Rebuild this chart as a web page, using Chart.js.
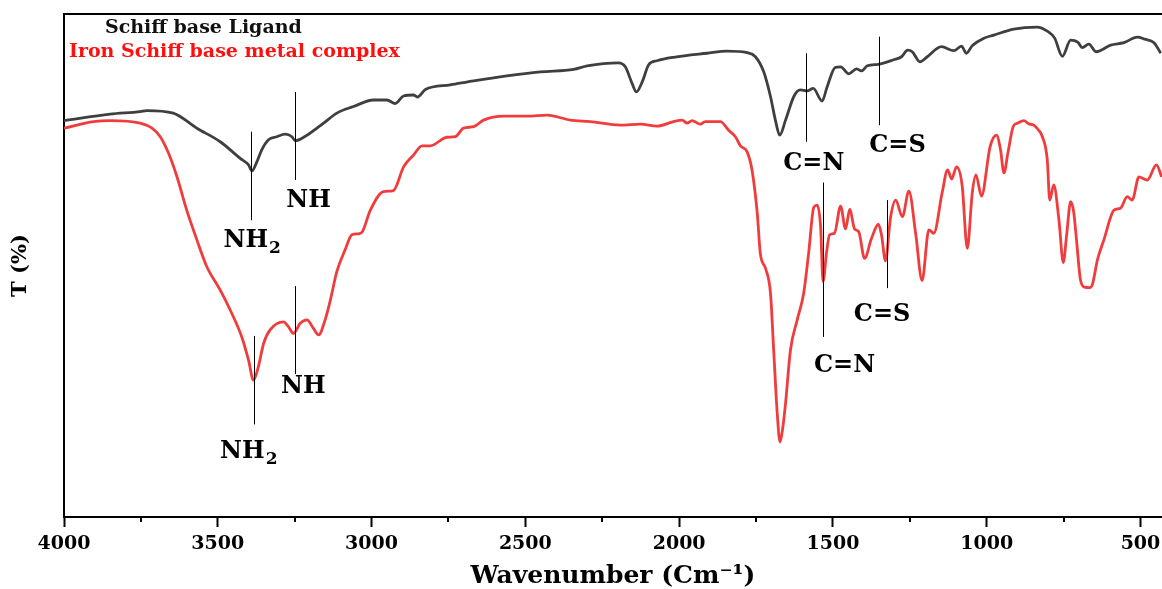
<!DOCTYPE html>
<html lang="en">
<head>
<meta charset="UTF-8">
<title>FTIR - Schiff base ligand and iron complex</title>
<script src="https://cdn.jsdelivr.net/npm/chart.js"></script>
<style>
  html, body { margin: 0; padding: 0; background: #fff; overflow: hidden; }
  .chart-box { position: relative; width: 1162px; height: 589px; }
</style>
</head>
<body>
<div class="chart-box"><canvas id="irChart"></canvas></div>
<script>
// Schiff base ligand: wavenumber (cm-1) / transmittance (%)
const ligandWn = [4000,3850,3752,3731,3645,3568,3492,3427,3400,3389,3373,3357,3335,3308,3281,3259,3248,3210,3156,3113,
  3059,2994,2950,2923,2896,2864,2851,2825,2744,2668,2560,2451,2343,2299,2197,2175,2153,2139,2120,2099,
  2072,2018,1909,1844,1779,1752,1725,1703,1687,1673,1654,1627,1606,1584,1564,1535,1519,1492,1475,1448,
  1423,1407,1388,1352,1303,1277,1257,1242,1217,1193,1147,1107,1082,1066,1047,1009,977,912,836,803,
  779,754,727,704,689,668,644,597,554,510,486,456,434];
const ligandT = [78.8,80.1,80.6,80.8,80.3,77.3,74.6,71.3,70.0,68.8,70.6,73.0,75.0,75.6,76.1,75.6,74.8,75.9,78.3,80.3,
  81.6,82.9,82.9,82.2,83.7,83.9,83.5,85.0,85.9,86.7,87.7,88.5,89.0,89.7,90.3,89.5,86.2,84.5,86.5,89.9,
  90.7,91.4,92.2,92.6,92.3,91.5,88.5,83.6,78.9,75.9,78.9,83.6,84.9,84.7,85.2,82.7,85.5,89.4,89.5,88.1,
  89.1,88.7,89.7,90.0,90.9,91.5,92.8,92.5,90.5,91.5,93.5,92.7,93.6,92.2,93.7,95.2,95.8,97.0,97.4,96.6,
  95.2,91.6,94.8,94.4,93.3,94.0,92.5,93.8,94.3,95.4,95.0,94.3,92.2];

// Iron complex
const complexWn = [4000,3904,3850,3752,3714,3687,3660,3633,3601,3568,3536,3492,3460,3422,3400,3384,3368,3351,3330,3286,
  3270,3254,3232,3210,3189,3172,3151,3134,3113,3086,3064,3042,3030,3004,2961,2929,2896,2863,2836,2809,
  2755,2728,2701,2668,2636,2571,2494,2429,2354,2289,2191,2126,2072,2018,1990,1974,1958,1931,1915,1866,
  1839,1817,1801,1779,1763,1746,1736,1719,1703,1692,1681,1672,1664,1654,1638,1616,1595,1579,1562,1551,
  1540,1532,1521,1511,1495,1475,1459,1445,1430,1416,1397,1375,1352,1342,1329,1313,1296,1274,1253,1231,
  1210,1188,1172,1145,1127,1114,1098,1080,1063,1047,1035,1017,989,968,955,944,931,914,900,879,
  864,847,831,819,803,795,782,765,751,740,727,717,708,695,682,665,656,640,619,586,
  565,543,527,505,478,448,431];
const complexT = [77.3,78.6,78.8,78.3,77.3,75.6,72.3,67.7,61.0,55.1,49.8,45.1,41.2,35.8,31.2,27.2,29.9,34.5,37.2,38.8,
  37.8,36.5,38.5,39.2,37.5,36.2,39.2,43.1,48.8,53.1,56.1,56.3,56.7,61.0,64.7,64.9,69.6,72.0,73.8,73.8,
  75.5,75.6,77.3,77.6,78.9,79.7,79.7,79.9,78.9,78.6,77.9,78.1,77.7,78.6,78.9,78.3,78.8,78.1,78.6,78.6,
  76.9,75.6,73.8,72.6,69.0,60.4,52.4,49.4,44.5,32.5,20.6,14.9,17.3,22.6,33.2,39.2,44.5,52.4,61.6,62.0,
  57.7,46.8,52.4,56.1,56.4,61.8,57.3,61.2,57.3,56.7,51.4,55.3,58.2,56.1,50.9,59.4,63.0,59.7,64.8,56.4,
  47.0,57.1,56.4,64.4,69.0,67.2,69.6,66.0,53.4,64.4,68.0,63.8,73.6,75.9,73.0,68.4,72.4,77.6,78.3,78.8,
  78.2,77.9,76.9,75.6,71.0,63.0,66.0,59.0,50.6,56.1,62.7,60.6,55.1,47.1,45.7,45.6,46.3,51.1,55.1,61.0,
  61.4,63.7,63.0,67.6,67.0,70.0,67.6];

const majorTicks = [4000, 3500, 3000, 2500, 2000, 1500, 1000, 500];
const minorTicks = [3750, 3250, 2750, 2250, 1750, 1250, 750];

// band assignments (first four: ligand, last four: complex)
const bandNames   = ['NH2', 'NH', 'C=N', 'C=S', 'NH2', 'NH', 'C=N', 'C=S'];
const bandWn      = [3392, 3248, 1586, 1349, 3382, 3250, 1532, 1325];
const bandTop     = [76.6, 84.5, 92.2, 95.5, 36.0, 45.9, 66.5, 63.0];
const bandBottom  = [59.0, 67.0, 74.6, 77.9, 18.4, 28.4, 35.8, 45.5];
const bandLabelWn = [3388, 3205, 1562, 1290, 3399, 3222, 1462, 1340];
const bandLabelT  = [53.6, 61.7, 69.0, 72.6, 11.7, 24.6, 28.9, 39.0];

const seriesNames = ['Schiff base Ligand', 'Iron Schiff base metal complex'];
const lineColors = ['#3f3f3f', '#f03c3c'];
const nameColors = ['#111111', '#ff1010'];

const FONT = '"DejaVu Serif", "Liberation Serif", serif';

const toPoints = (xs, ys) => xs.map((x, i) => ({ x: x, y: ys[i] }));

// top frame line and the short unlabelled ticks
const frameLines = {
  id: 'frameLines',
  afterDraw(chart) {
    const { ctx, chartArea: a, scales: { x } } = chart;
    ctx.save();
    ctx.strokeStyle = '#000';
    ctx.lineWidth = 2;
    ctx.beginPath();
    ctx.moveTo(a.left - 1, a.top);
    ctx.lineTo(a.right, a.top);
    ctx.stroke();
    minorTicks.forEach(v => {
      const px = Math.round(x.getPixelForValue(v));
      ctx.beginPath();
      ctx.moveTo(px, a.bottom);
      ctx.lineTo(px, a.bottom + 5);
      ctx.stroke();
    });
    ctx.restore();
  }
};

function drawBandLabel(ctx, name, cx, baseY) {
  const m = name.match(/^(.*?)(\d*)$/);
  const main = m[1], sub = m[2];
  ctx.font = 'bold 24px ' + FONT;
  const wMain = ctx.measureText(main).width;
  ctx.font = 'bold 17px ' + FONT;
  const wSub = sub ? ctx.measureText(sub).width + 1 : 0;
  const left = cx - (wMain + wSub) / 2;
  ctx.textAlign = 'left';
  ctx.textBaseline = 'alphabetic';
  ctx.font = 'bold 24px ' + FONT;
  ctx.fillText(main, left, baseY);
  if (sub) {
    ctx.font = 'bold 17px ' + FONT;
    ctx.fillText(sub, left + wMain + 1, baseY + 6);
  }
}

// vertical marker lines with their assignment labels
const bandMarks = {
  id: 'bandMarks',
  afterDatasetsDraw(chart) {
    const { ctx, scales: { x, y } } = chart;
    ctx.save();
    ctx.strokeStyle = '#000';
    ctx.fillStyle = '#000';
    ctx.lineWidth = 1;
    bandWn.forEach((wn, i) => {
      const px = Math.round(x.getPixelForValue(wn)) + 0.5;
      ctx.beginPath();
      ctx.moveTo(px, y.getPixelForValue(bandTop[i]));
      ctx.lineTo(px, y.getPixelForValue(bandBottom[i]));
      ctx.stroke();
      drawBandLabel(ctx, bandNames[i], x.getPixelForValue(bandLabelWn[i]), y.getPixelForValue(bandLabelT[i]));
    });
    ctx.restore();
  }
};

// series names written inside the plot, top left
const seriesLegend = {
  id: 'seriesLegend',
  afterDraw(chart) {
    const { ctx, chartArea: a } = chart;
    ctx.save();
    ctx.font = 'bold 19px ' + FONT;
    ctx.textAlign = 'left';
    ctx.textBaseline = 'alphabetic';
    ctx.fillStyle = nameColors[0];
    ctx.fillText(seriesNames[0], a.left + 41, a.top + 19);
    ctx.fillStyle = nameColors[1];
    ctx.fillText(seriesNames[1], a.left + 5, a.top + 43);
    ctx.restore();
  }
};

new Chart(document.getElementById('irChart'), {
  type: 'line',
  data: {
    datasets: [
      {
        label: seriesNames[1],
        data: toPoints(complexWn, complexT),
        borderColor: lineColors[1],
        borderWidth: 2.8,
        pointRadius: 0,
        cubicInterpolationMode: 'monotone'
      },
      {
        label: seriesNames[0],
        data: toPoints(ligandWn, ligandT),
        borderColor: lineColors[0],
        borderWidth: 2.8,
        pointRadius: 0,
        cubicInterpolationMode: 'monotone'
      }
    ]
  },
  options: {
    responsive: true,
    maintainAspectRatio: false,
    animation: false,
    layout: { padding: { top: 14, right: 0, bottom: 0, left: 0 } },
    plugins: {
      legend: { display: false },
      tooltip: { enabled: false }
    },
    scales: {
      x: {
        type: 'linear',
        reverse: true,
        min: 430,
        max: 4000,
        afterBuildTicks: s => { s.ticks = majorTicks.map(v => ({ value: v })); },
        afterFit: s => { s.height = 72; s.paddingLeft = 0; s.paddingRight = 0; },
        ticks: {
          autoSkip: false,
          maxRotation: 0,
          padding: 6,
          color: '#000',
          font: { family: FONT, size: 19, weight: 'bold' },
          callback: v => String(v)
        },
        grid: {
          display: true,
          drawOnChartArea: false,
          drawTicks: true,
          tickLength: 10,
          tickWidth: 2,
          tickColor: '#000'
        },
        border: { display: true, color: '#000', width: 2 },
        title: {
          display: true,
          text: 'Wavenumber (Cm\u207B\u00B9)',
          color: '#000',
          font: { family: FONT, size: 25, weight: 'bold', lineHeight: 1 },
          padding: { top: 0, bottom: 0 }
        }
      },
      y: {
        min: 0,
        max: 100,
        afterFit: s => { s.width = 64; },
        ticks: { display: false },
        grid: { display: false },
        border: { display: true, color: '#000', width: 2 },
        title: {
          display: true,
          text: 'T (%)',
          color: '#000',
          font: { family: FONT, size: 21, weight: 'bold', lineHeight: 1 },
          padding: { top: 10, bottom: 0 }
        }
      }
    }
  },
  plugins: [frameLines, bandMarks, seriesLegend]
});
</script>
</body>
</html>
